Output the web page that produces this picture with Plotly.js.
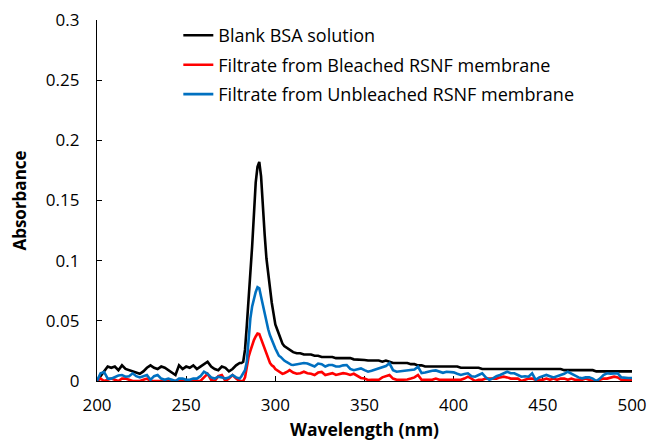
<!DOCTYPE html>
<html>
<head>
<meta charset="utf-8">
<script src="https://cdn.plot.ly/plotly-3.0.1.min.js"></script>
<style>html,body{margin:0;padding:0;background:#fff;}#chart{width:649px;height:441px;}</style>
</head>
<body>
<div id="chart"></div>
<script>
// Wavelength (nm) sampling points
const wavelength = [
  200,202,204,206,208,210,212,214,216,218,220,222,224,226,228,230,232,234,236,238,
  240,242,244,246,248,250,252,254,256,258,260,262,264,266,268,270,272,274,276,278,280,
  281,282,283,284,285,286,287,288,289,290,291,292,293,294,295,296,297,298,299,300,
  301,302,303,304,305,306,307,308,309,310,
  312,314,316,318,320,322,324,326,328,330,332,334,336,338,340,342,344,346,348,350,
  352,354,356,358,360,362,364,366,368,370,372,374,376,378,380,382,384,386,388,390,
  392,394,396,398,400,402,404,406,408,410,412,414,416,418,420,422,424,426,428,430,
  432,434,436,438,440,442,444,446,448,450,452,454,456,458,460,462,464,466,468,470,
  472,474,476,478,480,482,484,486,488,490,492,494,496,498,500
];

const blankBSA = [
  0.000,0.004,0.008,0.012,0.011,0.012,0.009,0.013,0.010,0.009,0.008,0.007,0.006,0.008,0.011,0.013,0.011,0.010,0.012,0.011,
  0.009,0.007,0.005,0.013,0.010,0.012,0.011,0.013,0.010,0.012,0.014,0.016,0.012,0.010,0.009,0.012,0.011,0.008,0.010,0.013,0.015,
  0.015,0.016,0.026,0.046,0.065,0.090,0.112,0.145,0.165,0.178,0.182,0.170,0.142,0.122,0.102,0.088,0.076,0.065,0.056,0.047,
  0.043,0.039,0.035,0.031,0.029,0.028,0.027,0.026,0.025,0.024,
  0.023,0.023,0.022,0.022,0.022,0.021,0.021,0.020,0.020,0.020,0.020,0.019,0.019,0.019,0.019,0.019,0.018,0.018,0.018,0.0175,
  0.017,0.017,0.017,0.017,0.016,0.017,0.016,0.015,0.015,0.015,0.015,0.015,0.014,0.014,0.013,0.013,0.012,0.012,0.012,0.012,
  0.012,0.012,0.012,0.012,0.012,0.012,0.011,0.011,0.011,0.011,0.011,0.011,0.010,0.010,0.010,0.010,0.010,0.010,0.010,0.010,
  0.010,0.010,0.010,0.010,0.010,0.010,0.010,0.010,0.010,0.010,0.010,0.010,0.010,0.010,0.010,0.009,0.009,0.009,0.009,0.009,
  0.009,0.009,0.009,0.009,0.008,0.008,0.008,0.008,0.008,0.008,0.008,0.008,0.008,0.008,0.008
];

const bleachedRSNF = [
  0.000,0.002,0.000,0.001,0.002,0.001,0.000,0.002,0.002,0.001,0.000,0.000,0.000,0.001,0.002,0.000,0.000,0.000,0.000,0.000,
  0.000,0.000,0.000,0.000,0.000,0.000,0.000,0.000,0.000,0.000,0.003,0.006,0.001,0.000,0.004,0.005,0.000,0.002,0.005,0.002,0.000,
  0.000,0.000,0.003,0.012,0.020,0.025,0.030,0.034,0.037,0.0395,0.039,0.035,0.030,0.026,0.022,0.018,0.015,0.013,0.012,0.010,
  0.009,0.008,0.007,0.006,0.0065,0.007,0.008,0.009,0.008,0.007,
  0.006,0.0065,0.0077,0.0065,0.006,0.005,0.007,0.0075,0.005,0.0055,0.0065,0.005,0.006,0.0065,0.006,0.005,0.006,0.004,0.0025,0.002,
  0.0008,0.001,0.0008,0.001,0.003,0.004,0.005,0.002,0.001,0.001,0.001,0.0012,0.002,0.003,0.005,0.001,0.001,0.001,0.001,0.002,
  0.001,0.001,0.001,0.001,0.001,0.001,0.001,0.002,0.0036,0.002,0.000,0.001,0.001,0.002,0.002,0.002,0.002,0.003,0.0036,0.003,
  0.002,0.002,0.002,0.000,0.001,0.002,0.002,0.001,0.001,0.001,0.002,0.001,0.002,0.001,0.002,0.002,0.001,0.002,0.001,0.001,
  0.001,0.002,0.001,0.000,0.000,0.001,0.002,0.002,0.003,0.0036,0.003,0.001,0.001,0.001,0.001
];

const unbleachedRSNF = [
  0.000,0.0065,0.0075,0.002,0.002,0.0036,0.0045,0.005,0.0036,0.004,0.0064,0.004,0.003,0.004,0.005,0.001,0.004,0.005,0.002,0.001,
  0.002,0.001,0.000,0.002,0.002,0.001,0.001,0.002,0.002,0.004,0.0077,0.006,0.003,0.002,0.0036,0.003,0.002,0.003,0.005,0.003,0.002,
  0.004,0.0064,0.009,0.016,0.035,0.052,0.062,0.069,0.074,0.078,0.077,0.070,0.063,0.055,0.048,0.043,0.038,0.034,0.030,0.027,
  0.024,0.021,0.020,0.018,0.017,0.016,0.015,0.014,0.0135,0.0133,
  0.014,0.0147,0.015,0.0145,0.013,0.012,0.0145,0.014,0.012,0.0133,0.0133,0.012,0.012,0.013,0.0133,0.010,0.009,0.010,0.0105,0.009,
  0.0077,0.0085,0.0095,0.0105,0.012,0.0125,0.0147,0.009,0.0077,0.008,0.008,0.0085,0.009,0.0095,0.0119,0.0066,0.007,0.008,0.0085,0.0088,
  0.008,0.0068,0.0077,0.0077,0.0072,0.006,0.005,0.0058,0.0064,0.004,0.0036,0.005,0.0064,0.003,0.001,0.0022,0.004,0.005,0.0065,0.0077,
  0.0065,0.0064,0.005,0.0036,0.004,0.0036,0.0064,0.001,0.003,0.004,0.005,0.004,0.003,0.004,0.005,0.006,0.0077,0.006,0.004,0.003,
  0.0022,0.003,0.003,0.002,0.000,0.002,0.005,0.0064,0.006,0.006,0.0064,0.003,0.0025,0.0025,0.0025
];

const seriesNames = [
  'Blank BSA solution',
  'Filtrate from Bleached RSNF membrane',
  'Filtrate from Unbleached RSNF membrane'
];
const seriesColors = ['#000000', '#FF0000', '#0070C0'];
const seriesValues = [blankBSA, bleachedRSNF, unbleachedRSNF];

const FONT = '"Open Sans", Lato, sans-serif';

const traces = seriesValues.map((vals, i) => ({
  type: 'scatter',
  mode: 'lines',
  x: wavelength,
  y: vals,
  name: seriesNames[i],
  legendgroup: 'g' + i,
  line: {color: seriesColors[i], width: 2.6}
}));

const layout = {
  width: 649,
  height: 441,
  margin: {l: 97, r: 17, t: 20, b: 60},
  paper_bgcolor: '#ffffff',
  plot_bgcolor: '#ffffff',
  font: {family: FONT, size: 17, color: '#000000'},
  showlegend: true,
  legend: {
    x: 0.152, y: 1.008, xanchor: 'left', yanchor: 'top',
    bgcolor: 'rgba(0,0,0,0)',
    font: {family: FONT, size: 18, color: '#000000'},
    tracegroupgap: 3,
    itemwidth: 30
  },
  xaxis: {
    range: [200, 500],
    tick0: 200, dtick: 50,
    ticks: 'inside', ticklen: 5, tickwidth: 1, tickcolor: '#000',
    showline: true, linecolor: '#000', linewidth: 1.2,
    showgrid: false, zeroline: false,
    layer: 'below traces',
    ticklabelstandoff: 8,
    tickfont: {family: FONT, size: 17, color: '#000'},
    title: {text: '<b>Wavelength (nm)</b>', font: {family: FONT, size: 17.5, color: '#000'}, standoff: 10}
  },
  yaxis: {
    range: [0, 0.3],
    tick0: 0, dtick: 0.05,
    ticks: 'inside', ticklen: 5, tickwidth: 1, tickcolor: '#000',
    showline: true, linecolor: '#000', linewidth: 1.2,
    showgrid: false, zeroline: false,
    layer: 'below traces',
    ticklabelstandoff: 13,
    tickfont: {family: FONT, size: 17, color: '#000'},
    title: {text: '<b>Absorbance</b>', font: {family: FONT, size: 17, color: '#000'}, standoff: 14}
  }
};

Plotly.newPlot('chart', traces, layout, {displayModeBar: false, staticPlot: true});
</script>
</body>
</html>
